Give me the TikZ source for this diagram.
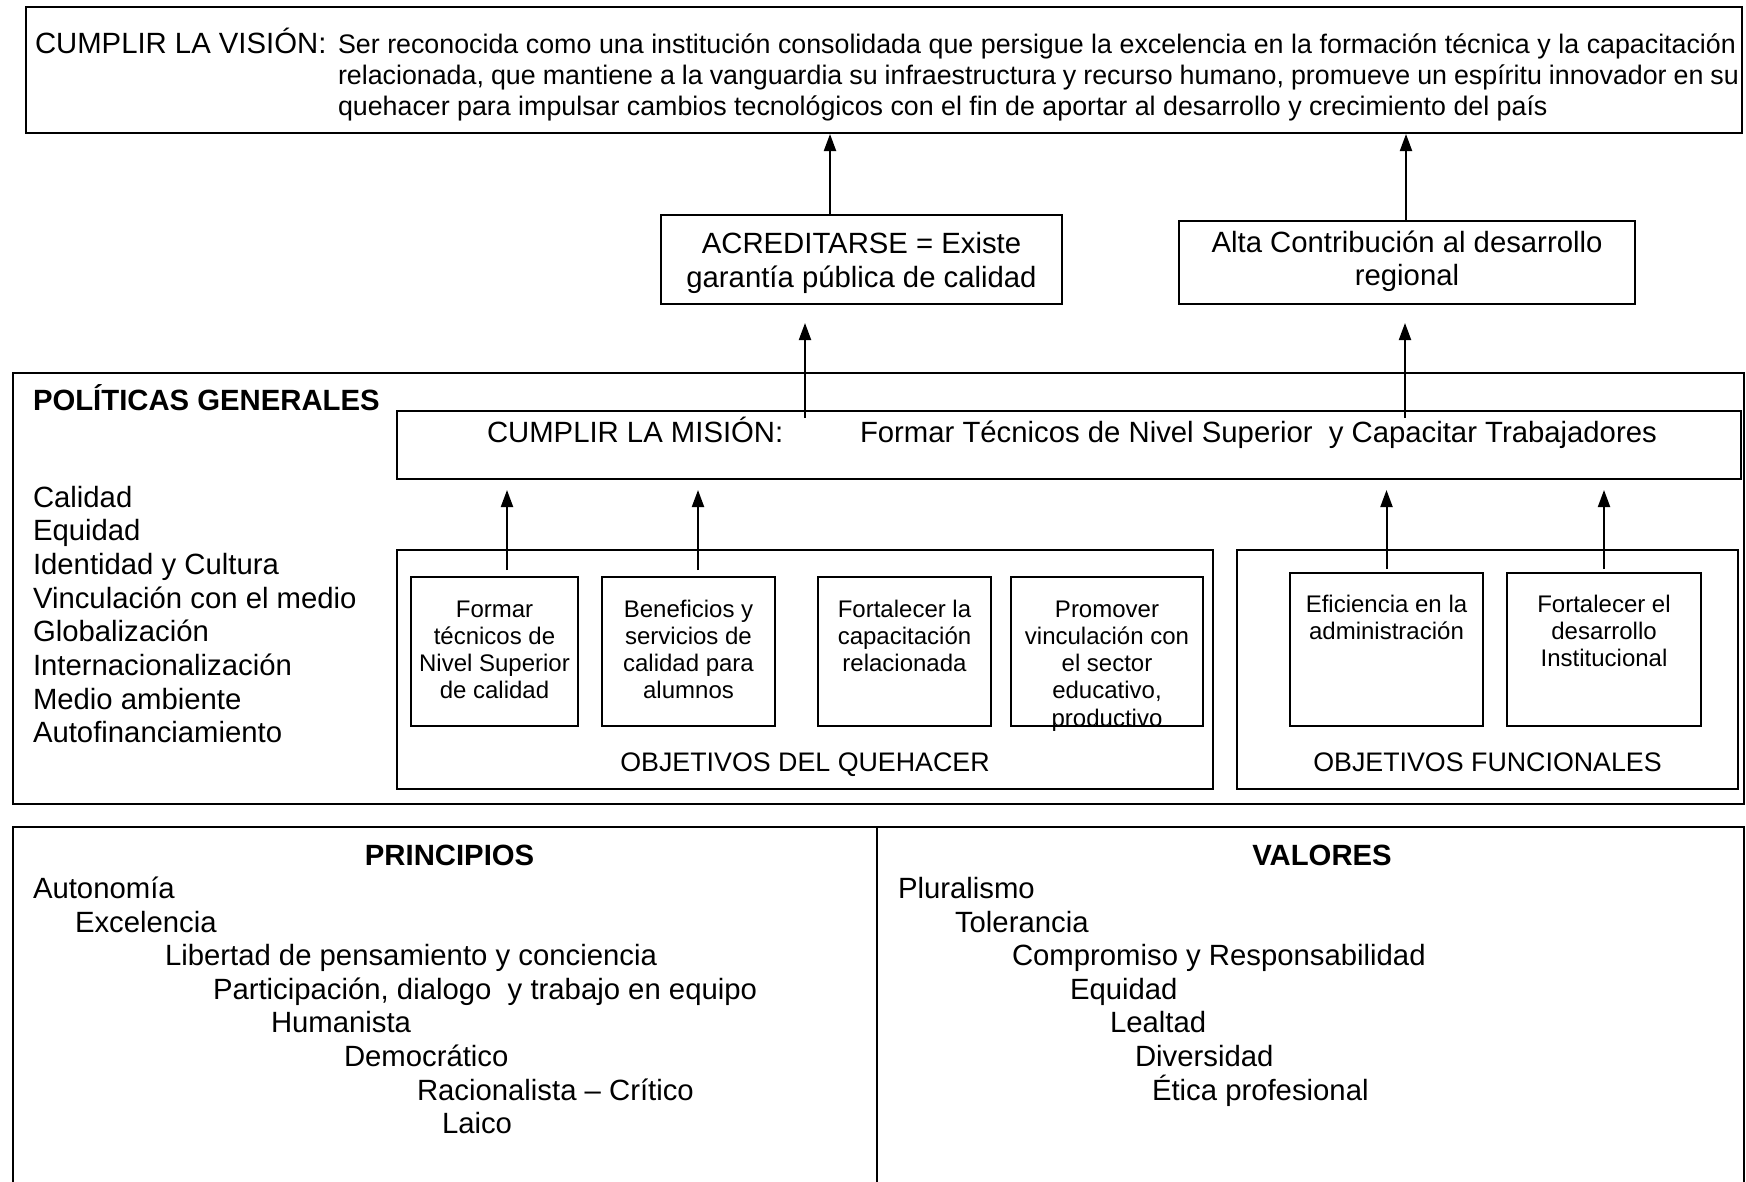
\documentclass[tikz,border=0pt]{standalone}
\usepackage{fontspec}
\setmainfont{Liberation Sans}
\usetikzlibrary{arrows.meta,calc}
\newcommand\fA{\fontsize{29.3}{33.7}\selectfont}
\newcommand\fB{\fontsize{26.8}{30.8}\selectfont}
\newcommand\fC{\fontsize{24}{27.3}\selectfont}
\begin{document}
\begin{tikzpicture}[x=1pt,y=-1pt,
  bigbox/.style={draw, line width=2.6pt, anchor=north west, inner sep=0pt, outer sep=0pt},
  smallbox/.style={draw, line width=2pt, anchor=north west, inner sep=0pt, outer sep=0pt},
  txt/.style={inner sep=0pt, outer sep=0pt, anchor=base west, font=\fA},
  ctxt/.style={txt, anchor=base},
  boxtxt/.style={inner sep=0pt, outer sep=0pt, anchor=north, align=center, font=\fC},
  arr/.style={line width=2pt, -{Triangle[length=17pt,width=12pt]}},
  frame/.style={line width=2.6pt}]
\useasboundingbox (0,0) rectangle (1746,1181);
\fill[white] (0,0) rectangle (1746,1181);

% ---------- Vision ----------
\node[bigbox, minimum width=1716pt, minimum height=126pt] (vision) at (26,7) {};
\node[txt] (vlabel) at (35,53.5) {CUMPLIR LA VISIÓN:};
\node[txt, font=\fB] (v1) at (338,53.5) {\makebox[1398pt][s]{Ser reconocida como una institución consolidada que persigue la excelencia en la formación técnica y la capacitación}};
\node[txt, font=\fB] (v2) at (338,84.5) {\makebox[1401pt][s]{relacionada, que mantiene a la vanguardia su infraestructura y recurso humano, promueve un espíritu innovador en su}};
\node[txt, font=\fB] (v3) at (338,115.5) {quehacer para impulsar cambios tecnológicos con el fin de aportar al desarrollo y crecimiento del país};

% ---------- Middle boxes ----------
\node[smallbox, minimum width=401pt, minimum height=89pt] (acred) at (661,215) {};
\node[ctxt] (acred1) at (861.5,253.5) {ACREDITARSE = Existe};
\node[ctxt] (acred2) at (861.5,287.5) {garantía pública de calidad};

\node[smallbox, minimum width=456pt, minimum height=83pt] (alta) at (1179,221) {};
\node[ctxt] (alta1) at (1407,252.5) {Alta Contribución al desarrollo};
\node[ctxt] (alta2) at (1407,285) {regional};

% ---------- Politicas ----------
\node[bigbox, minimum width=1731pt, minimum height=431pt] (politicas) at (13,373) {};
\node[txt, font=\fA\bfseries] (poltitle) at (33,410.5) {POLÍTICAS GENERALES};
\foreach \t [count=\i] in {Calidad, Equidad, Identidad y Cultura, Vinculación con el medio, Globalización, Internacionalización, Medio ambiente, Autofinanciamiento}
  \node[txt] (pol\i) at (33,{507+33.7*(\i-1)}) {\t};

\node[smallbox, minimum width=1344pt, minimum height=68pt] (mision) at (397,411) {};
\node[txt] (mis1) at (487,442.5) {CUMPLIR LA MISIÓN:};
\node[txt] (mis2) at (860,442.5) {Formar Técnicos de Nivel Superior\ \ y Capacitar Trabajadores};

% Objetivos del quehacer
\node[bigbox, minimum width=816pt, minimum height=239pt] (quehacer) at (397,550) {};
\node[smallbox, minimum width=167pt, minimum height=149pt] (q1) at (411,577) {};
\node[smallbox, minimum width=173pt, minimum height=149pt] (q2) at (602,577) {};
\node[smallbox, minimum width=173pt, minimum height=149pt] (q3) at (818,577) {};
\node[smallbox, minimum width=192pt, minimum height=149pt] (q4) at (1011,577) {};
\node[boxtxt] (q1t) at ([yshift=-18pt]q1.north) {\rule{0pt}{22pt}Formar\\técnicos de\\Nivel Superior\\de calidad};
\node[boxtxt] (q2t) at ([yshift=-18pt]q2.north) {\rule{0pt}{22pt}Beneficios y\\servicios de\\calidad para\\alumnos};
\node[boxtxt] (q3t) at ([yshift=-18pt]q3.north) {\rule{0pt}{22pt}Fortalecer la\\capacitación\\relacionada};
\node[boxtxt] (q4t) at ([yshift=-18pt]q4.north) {\rule{0pt}{22pt}Promover\\vinculación con\\el sector\\educativo,\\productivo};
\node[ctxt, font=\fB] (qlabel) at (805,771.6) {OBJETIVOS DEL QUEHACER};

% Objetivos funcionales
\node[bigbox, minimum width=501pt, minimum height=239pt] (funcionales) at (1237,550) {};
\node[smallbox, minimum width=193pt, minimum height=153pt] (f1) at (1290,573) {};
\node[smallbox, minimum width=194pt, minimum height=153pt] (f2) at (1507,573) {};
\node[boxtxt] (f1t) at ([yshift=-17pt]f1.north) {\rule{0pt}{22pt}Eficiencia en la\\administración};
\node[boxtxt] (f2t) at ([yshift=-17pt]f2.north) {\rule{0pt}{22pt}Fortalecer el\\desarrollo\\Institucional};
\node[ctxt, font=\fB] (flabel) at (1487.5,771.6) {OBJETIVOS FUNCIONALES};

% ---------- Arrows ----------
\draw[arr, shorten >=1pt] ([xshift=-31.5pt]acred.north) -- ([xshift=-31.5pt]acred.north |- vision.south);
\draw[arr, shorten >=1pt] ([xshift=-1pt]alta.north) -- ([xshift=-1pt]alta.north |- vision.south);
\draw[arr, shorten >=19pt] ([xshift=-56.5pt,yshift=-7pt]acred.south |- mision.north) -- ([xshift=-56.5pt]acred.south);
\draw[arr, shorten >=19pt] ([xshift=-2pt,yshift=-7pt]alta.south |- mision.north) -- ([xshift=-2pt]alta.south);
\draw[arr, shorten <=7pt, shorten >=11pt] ([xshift=12.5pt]q1.north) -- ([xshift=12.5pt]q1.north |- mision.south);
\draw[arr, shorten <=7pt, shorten >=11pt] ([xshift=9.5pt]q2.north) -- ([xshift=9.5pt]q2.north |- mision.south);
\draw[arr, shorten <=4pt, shorten >=11pt] (f1.north) -- (f1.north |- mision.south);
\draw[arr, shorten <=4pt, shorten >=11pt] (f2.north) -- (f2.north |- mision.south);

% ---------- Principios / Valores ----------
\coordinate (bl) at (13,1185);
\coordinate (tl) at (13,827);
\coordinate (tr) at (1744,827);
\coordinate (br) at (1744,1185);
\coordinate (dt) at (877,827);
\coordinate (db) at (877,1185);
\draw[frame] (bl) -- (tl) -- (tr) -- (br);
\draw[line width=2pt] (dt) -- (db);
\node[ctxt, font=\fA\bfseries] (princ) at (449.6,865.5) {PRINCIPIOS};
\node[ctxt, font=\fA\bfseries] (valor) at (1322,865.5) {VALORES};
\foreach \t/\x [count=\i] in {Autonomía/33, Excelencia/75, Libertad de pensamiento y conciencia/165, {Participación, dialogo\ \ y trabajo en equipo}/213, Humanista/271, Democrático/344, Racionalista – Crítico/417, Laico/442}
  \node[txt] (pr\i) at (\x,{898.5+33.6*(\i-1)}) {\t};
\foreach \t/\x [count=\i] in {Pluralismo/898, Tolerancia/955, Compromiso y Responsabilidad/1012, Equidad/1070, Lealtad/1110, Diversidad/1135, Ética profesional/1152}
  \node[txt] (va\i) at (\x,{898.5+33.6*(\i-1)}) {\t};
\end{tikzpicture}
\end{document}
